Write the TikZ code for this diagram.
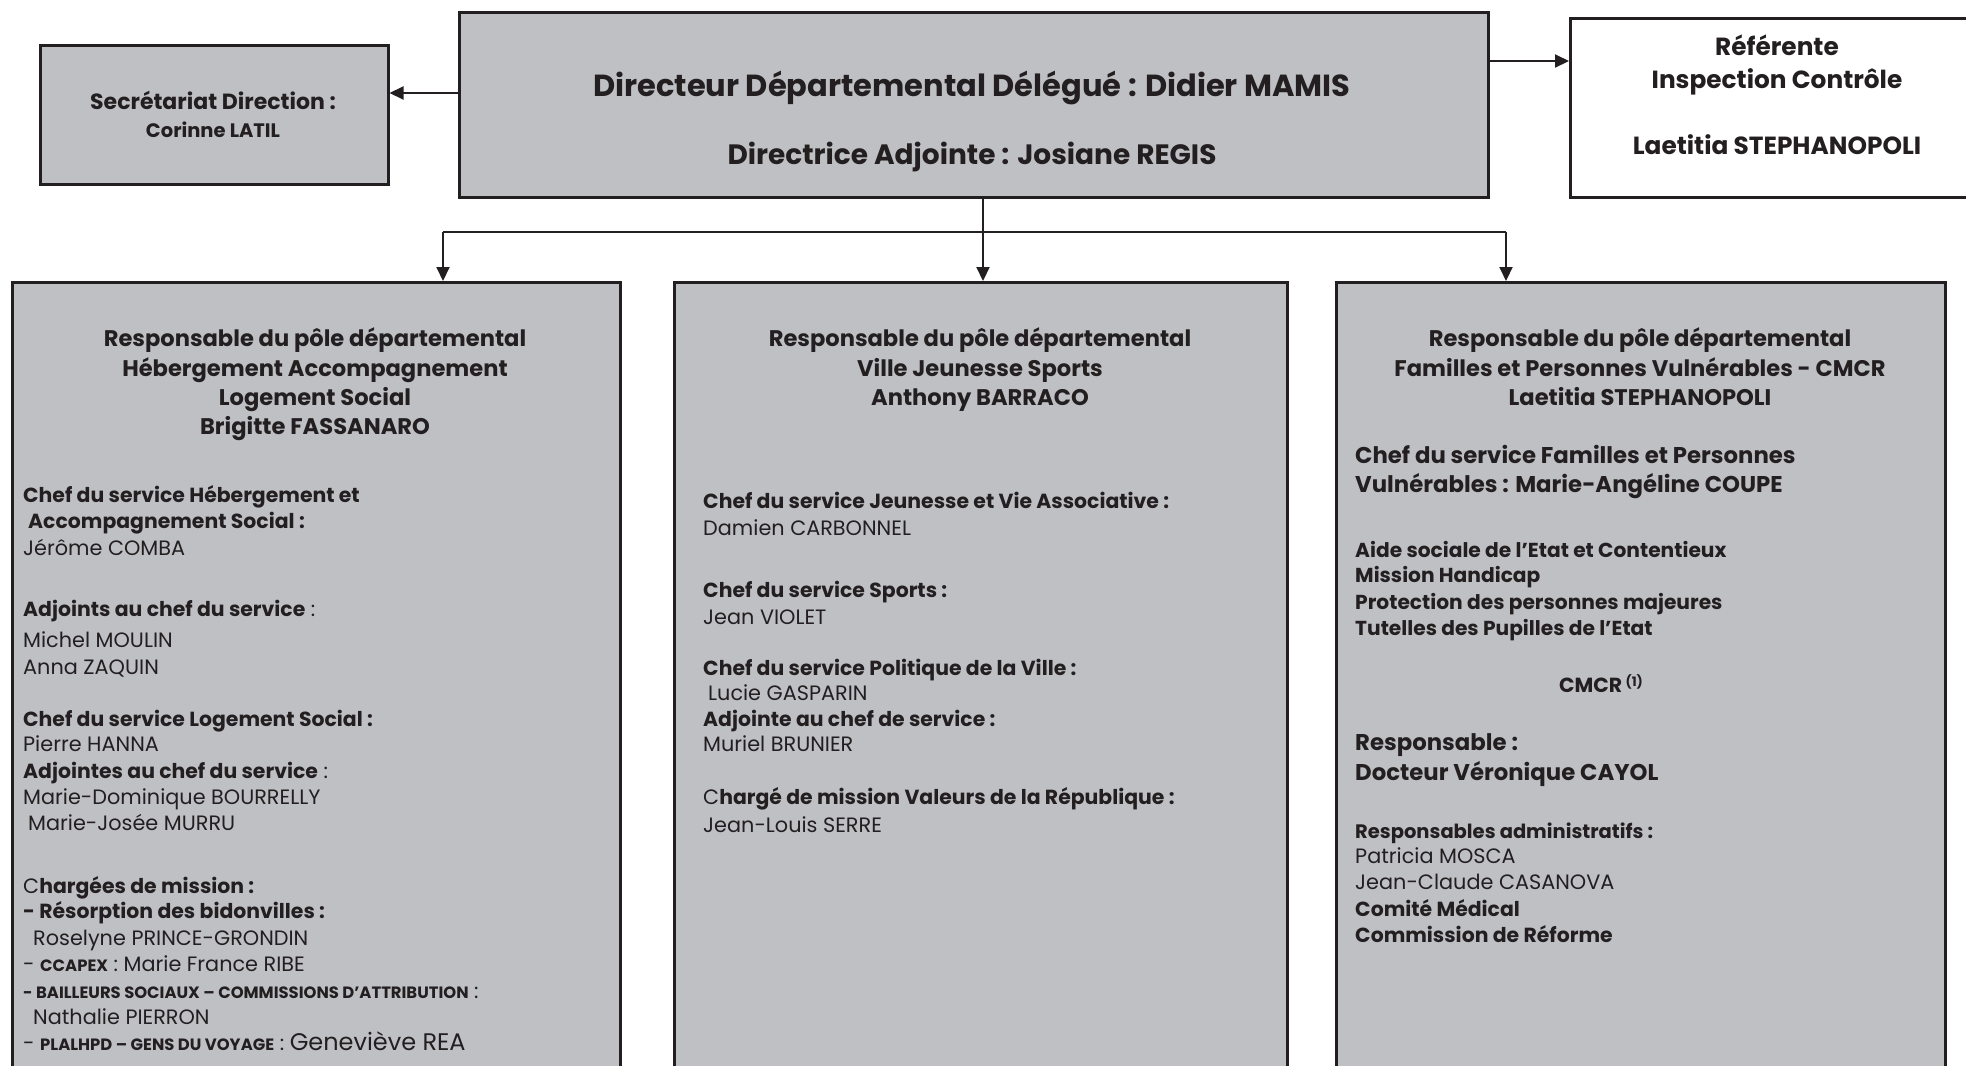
\documentclass[tikz,border=0pt]{standalone}
\usepackage{fontspec}
\setmainfont{Poppins}
\usetikzlibrary{arrows.meta}
\definecolor{boxgray}{RGB}{191,192,196}
\definecolor{ink}{RGB}{35,31,32}
\newcommand\fDirA{\fontsize{30.5}{34}\selectfont\bfseries}
\newcommand\fDirB{\fontsize{28}{32}\selectfont\bfseries}
\newcommand\fRef{\fontsize{24.8}{28}\selectfont\bfseries}
\newcommand\fSecA{\fontsize{22}{26}\selectfont\bfseries}
\newcommand\fSecB{\fontsize{19.5}{23}\selectfont\bfseries}
\newcommand\fTit{\fontsize{22.6}{26}\selectfont\bfseries}
\newcommand\fBig{\fontsize{22.8}{26}\selectfont\bfseries}
\newcommand\fBody{\fontsize{20.8}{24}\selectfont}
\newcommand\fBold{\fontsize{20.4}{24}\selectfont\bfseries}
\newcommand\fSmall{\fontsize{20.2}{24}\selectfont\bfseries}
\newcommand\smcap[1]{{\fontsize{16.4}{19}\selectfont\bfseries #1}}
\begin{document}
\begin{tikzpicture}[x=1pt,y=-1pt,
 box/.style={draw=ink,line width=2.5pt,fill=boxgray,rectangle,inner sep=0pt,anchor=north west},
 wbox/.style={box,fill=white},
 conn/.style={draw=ink,line width=2pt},
 arr/.style={conn,-{Triangle[length=14pt,width=13pt]}},
 tl/.style={inner sep=0pt,anchor=mid west,text=ink,font=\fBody,yshift=-5.5pt},
 tb/.style={tl,font=\fBold},
 tc/.style={inner sep=0pt,anchor=mid,text=ink,yshift=-6.5pt},
 td/.style={tc,yshift=-2pt}]
\clip (0,0) rectangle (1966,1066);
% boxes
\node[box,minimum width=348pt,minimum height=139pt] (sec) at (39,44) {};
\node[box,minimum width=1029pt,minimum height=185pt] (dir) at (458,11) {};
\node[wbox,minimum width=417pt,minimum height=179pt] (ref) at (1569,17) {};
\node[box,minimum width=608pt,minimum height=820pt] (p1) at (11,281) {};
\node[box,minimum width=613pt,minimum height=820pt] (p2) at (673,281) {};
\node[box,minimum width=609pt,minimum height=820pt] (p3) at (1335,281) {};
% connectors
\coordinate (ya) at (0,93);
\coordinate (yb) at (0,61);
\coordinate (bl) at (443,232);
\coordinate (bm) at (983,232);
\coordinate (br) at (1506,232);
\draw[arr] (dir.west |- ya) -- (sec.east |- ya);
\draw[arr] (dir.east |- yb) -- (ref.west |- yb);
\draw[conn] (bl) -- (br);
\draw[arr] (dir.south -| bm) -- (p2.north -| bm);
\draw[arr] (bl) -- (p1.north -| bl);
\draw[arr] (br) -- (p3.north -| br);
% top texts
\node[tc,font=\fSecA] (s1) at (213,100) {Secrétariat Direction :};
\node[tc,font=\fSecB] (s2) at (213,128) {Corinne LATIL};
\node[td,font=\fDirA] (d1) at (972,85) {Directeur Départemental Délégué : Didier MAMIS};
\node[td,font=\fDirB] (d2) at (972,153) {Directrice Adjointe : Josiane REGIS};
\node[tc,font=\fRef] (r1) at (1777,46) {Référente};
\node[tc,font=\fRef] (r2) at (1777,79) {Inspection Contrôle};
\node[tc,font=\fRef] (r3) at (1777,145) {Laetitia STEPHANOPOLI};
% titles
\node[tc,font=\fTit] (a1) at (315,337) {Responsable du pôle départemental};
\node[tc,font=\fTit] (a2) at (315,367) {Hébergement Accompagnement};
\node[tc,font=\fTit] (a3) at (315,396) {Logement Social};
\node[tc,font=\fTit] (a4) at (315,425) {Brigitte FASSANARO};
\node[tc,font=\fTit] (b1) at (980,337) {Responsable du pôle départemental};
\node[tc,font=\fTit] (b2) at (980,367) {Ville Jeunesse Sports};
\node[tc,font=\fTit] (b3) at (980,396) {Anthony BARRACO};
\node[tc,font=\fTit] (c1) at (1640,337) {Responsable du pôle départemental};
\node[tc,font=\fTit] (c2) at (1640,367) {Familles et Personnes Vulnérables - CMCR};
\node[tc,font=\fTit] (c3) at (1640,396) {Laetitia STEPHANOPOLI};
% left body
\node[tb] (l1) at (23,494) {Chef du service Hébergement et};
\node[tb] (l2) at (28,520) {Accompagnement Social :};
\node[tl] (l3) at (23,547) {Jérôme COMBA};
\node[tl] (l4) at (23,608) {{\fBold Adjoints au chef du service} :};
\node[tl] (l5) at (23,639) {Michel MOULIN};
\node[tl] (l6) at (23,666) {Anna ZAQUIN};
\node[tb] (l7) at (23,718) {Chef du service Logement Social :};
\node[tl] (l8) at (23,743) {Pierre HANNA};
\node[tl] (l9) at (23,770) {{\fBold Adjointes au chef du service} :};
\node[tl] (l10) at (23,796) {Marie-Dominique BOURRELLY};
\node[tl] (l11) at (28,822) {Marie-Josée MURRU};
\node[tl] (l12) at (23,885) {C{\fBold hargées de mission :}};
\node[tb] (l13) at (23,910) {- Résorption des bidonvilles :};
\node[tl] (l14) at (33,937) {Roselyne PRINCE-GRONDIN};
\node[tl] (l15) at (23,963) {- \smcap{CCAPEX} : Marie France RIBE};
\node[tl] (l16) at (23,990) {\smcap{- BAILLEURS SOCIAUX – COMMISSIONS D’ATTRIBUTION} :};
\node[tl] (l17) at (33,1016) {Nathalie PIERRON};
\node[tl] (l18) at (23,1042) {- \smcap{PLALHPD – GENS DU VOYAGE} : {\fontsize{24}{28}\selectfont Geneviève REA}};
% middle body
\node[tb] (m1) at (703,500) {Chef du service Jeunesse et Vie Associative :};
\node[tl] (m2) at (703,527) {Damien CARBONNEL};
\node[tb] (m3) at (703,589) {Chef du service Sports :};
\node[tl] (m4) at (703,616) {Jean VIOLET};
\node[tb] (m5) at (703,667) {Chef du service Politique de la Ville :};
\node[tl] (m6) at (708,692) {Lucie GASPARIN};
\node[tb] (m7) at (703,718) {Adjointe au chef de service :};
\node[tl] (m8) at (703,743) {Muriel BRUNIER};
\node[tl] (m9) at (703,796) {C{\fBold hargé de mission Valeurs de la République :}};
\node[tl] (m10) at (703,824) {Jean-Louis SERRE};
% right body
\node[tl,font=\fBig] (n1) at (1355,455) {Chef du service Familles et Personnes};
\node[tl,font=\fBig] (n2) at (1355,484) {Vulnérables : Marie-Angéline COUPE};
\node[tl,font=\fSmall] (n3) at (1355,549) {Aide sociale de l’Etat et Contentieux};
\node[tl,font=\fSmall] (n4) at (1355,574) {Mission Handicap};
\node[tl,font=\fSmall] (n5) at (1355,601) {Protection des personnes majeures};
\node[tl,font=\fSmall] (n6) at (1355,627) {Tutelles des Pupilles de l’Etat};
\node[tc,font=\fBold] (n7) at (1601,683) {CMCR\,\raisebox{0.5ex}{\fontsize{13}{14}\selectfont (1)}};
\node[tl,font=\fBig] (n8) at (1355,742) {Responsable :};
\node[tl,font=\fBig] (n9) at (1355,772) {Docteur Véronique CAYOL};
\node[tl,font=\fontsize{19.5}{24}\selectfont\bfseries] (n10) at (1355,830) {Responsables administratifs :};
\node[tl] (n11) at (1355,855) {Patricia MOSCA};
\node[tl] (n12) at (1355,881) {Jean-Claude CASANOVA};
\node[tb] (n13) at (1355,908) {Comité Médical};
\node[tb] (n14) at (1355,934) {Commission de Réforme};
\end{tikzpicture}
\end{document}
